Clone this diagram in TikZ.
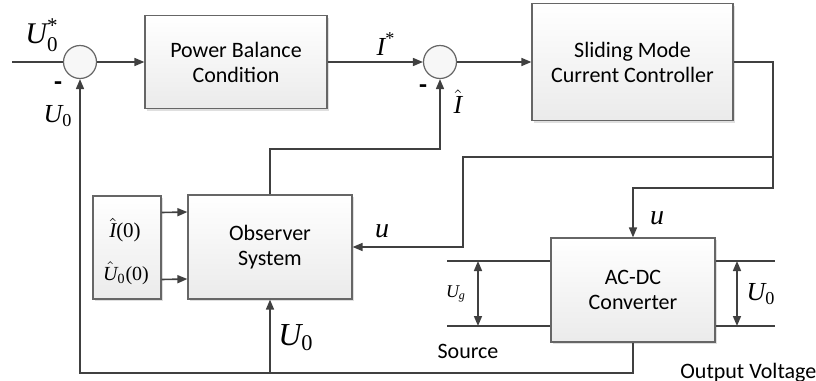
\documentclass[tikz,border=0pt]{standalone}
\usepackage{amsmath}
\usepackage{fontspec}
\setmainfont{Carlito}
\newfontfamily\tms{Liberation Serif}
\usetikzlibrary{arrows.meta,shadows}
\newcommand{\tv}[1]{\text{\tms\itshape #1}}
\newcommand{\tn}[1]{\text{\tms #1}}
\tikzset{
  blk/.style={draw=black!60, line width=0.6pt, top color=white, bottom color=black!8,
    drop shadow={shadow xshift=1pt, shadow yshift=-1pt, opacity=0.25},
    align=center, inner sep=0pt, font=\fontsize{11}{12.5}\selectfont},
  sum/.style={circle, draw=black!60, line width=0.6pt, fill=black!3, minimum size=16.5pt, inner sep=0pt},
  wire/.style={draw=black!75, line width=0.8pt},
  arr/.style={wire, -{Triangle[length=5pt,width=4pt]}},
  dbl/.style={wire, {Triangle[length=5pt,width=4pt]}-{Triangle[length=5pt,width=4pt]}},
  lbl/.style={inner sep=0pt},
}

\begin{document}
\begin{tikzpicture}[x=0.5pt,y=-0.5pt]
        \useasboundingbox (0,0) rectangle (816,381);
        % blocks
        \node[sum] (s1) at (80,62) {};
        \node[blk, minimum width=91pt, minimum height=46.5pt] (pbc) at (236,62) {Power Balance\\Condition};
        \node[sum] (s2) at (440,62) {};
        \node[blk, minimum width=100.5pt, minimum height=58.5pt] (smc) at (632.5,62) {Sliding Mode\\Current Controller};
        \node[blk, minimum width=82pt, minimum height=52pt] (obs) at (270,247) {Observer\\System};
        \node[blk, minimum width=34pt, minimum height=51.5pt] (init) at (127,247.5) {};
        \node[blk, minimum width=82pt, minimum height=52pt] (acdc) at (633,290) {AC-DC\\Converter};
        % forward path
        \coordinate (in) at (12,62);
        \draw[wire] (in) -- (s1);
        \draw[arr] (s1) -- (pbc);
        \draw[arr] (pbc) -- (s2);
        \draw[arr] (s2) -- (smc);
        \coordinate (r1) at (773,188);
        \coordinate (j1) at (773,157);
        \coordinate (k1) at (463,157);
        \draw[arr] (smc.east) -| (r1) -| (acdc.north);
        \draw[arr] (j1) -- (k1) |- (obs.east);
        % feedback
        \coordinate (t1) at (440,149);
        \draw[arr] (obs.north) |- (t1) -- (s2);
        \coordinate (b1) at (80,373);
        \coordinate (b2) at (270,373);
        \draw[arr] (acdc.south) |- (b1) -- (s1);
        \draw[arr] (b2) -- (obs.south);
        \foreach \dy in {17.5pt,-16pt}
        \draw[arr] ([yshift=\dy]init.east) -- ([yshift=\dy]obs.west);
        % source and output
        \coordinate (sa) at (447,261);
        \coordinate (sb) at (447,326);
        \coordinate (oa) at (775,261);
        \coordinate (ob) at (775,326);
        \draw[wire] (sa) -- (sa -| acdc.west);
        \draw[wire] (sb) -- (sb -| acdc.west);
        \draw[wire] (acdc.east |- oa) -- (oa);
        \draw[wire] (acdc.east |- ob) -- (ob);
        \coordinate (ga) at (478,261);
        \coordinate (gb) at (478,326);
        \coordinate (va) at (737,261);
        \coordinate (vb) at (737,326);
        \draw[dbl] (ga) -- (gb);
        \draw[dbl] (va) -- (vb);
        % labels
        \node[lbl, font=\fontsize{15}{15}\selectfont] (lUs) at (42,35) {$\tv{U}_{\tn{0}}^{\tn{*}}$};
        \node[lbl, font=\fontsize{13}{13}\selectfont] (lU1) at (58,116) {$\tv{U}_{\tn{0}}$};
        \node[lbl, font=\fontsize{13}{13}\selectfont] (lI) at (386,44) {$\tv{I}^{\tn{*}}$};
        \node[lbl, font=\fontsize{13}{13}\selectfont] (lIh) at (458,102) {$\hat{\tv{I}}$};
        \node[lbl, font=\fontsize{14}{14}\selectfont] (lu1) at (382,231) {$\tv{u}$};
        \node[lbl, font=\fontsize{14}{14}\selectfont] (lu2) at (657,218) {$\tv{u}$};
        \node[lbl, font=\fontsize{16}{16}\selectfont] (lU2) at (296,338) {$\tv{U}_{\tn{0}}$};
        \node[lbl, font=\fontsize{9}{9}\selectfont] (lUg) at (456,294) {$\tv{U}_{\tv{g}}$};
        \node[lbl, font=\fontsize{13}{13}\selectfont] (lU3) at (761,294) {$\tv{U}_{\tn{0}}$};
        \node[lbl, font=\fontsize{10.5}{10.5}\selectfont] (li0) at (125,230) {$\hat{\tv{I}}\tn{(0)}$};
        \node[lbl, font=\fontsize{10}{10}\selectfont] (lu0) at (126,273) {$\hat{\tv{U}}_{\tn{0}}\tn{(0)}$};
        \foreach \Point/\Name in {(58,86)/ms1, (423,89)/ms2}
        \node[lbl, font=\fontsize{13}{13}\bfseries] (\Name) at \Point {-};
        \node[lbl, font=\fontsize{11}{11}\selectfont] (lsrc) at (468,351) {Source};
        \node[lbl, anchor=west, font=\fontsize{11}{11}\selectfont] (lout) at (680,373) {Output Voltage};
\end{tikzpicture}
\end{document}
